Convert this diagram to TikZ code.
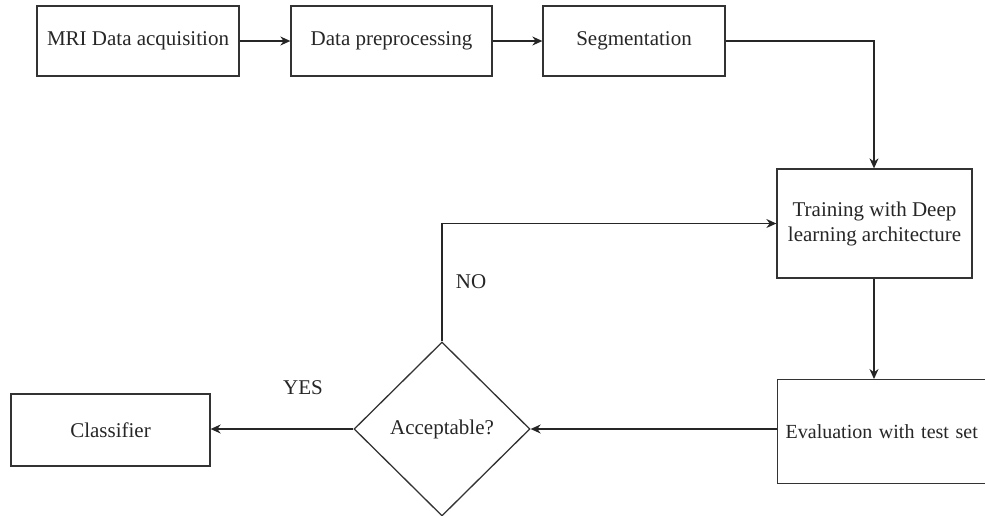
\documentclass[tikz,border=0pt]{standalone}
\usepackage{fontspec}
\setmainfont{Liberation Serif}
\usetikzlibrary{shapes.geometric,arrows.meta}
\begin{document}
\begin{tikzpicture}[x=1pt,y=-1pt,
  every node/.style={font=\fontsize{21}{25}\selectfont, text=black!85},
  box/.style={draw=black!80, line width=1.3pt, rectangle, inner sep=0pt},
  dec/.style={draw=black!80, line width=1.3pt, shape=diamond, inner sep=0pt, minimum width=176pt, minimum height=174pt},
  conn/.style={draw=black!85, line width=1.3pt, -{Stealth[length=10pt,width=9pt]}},
  lbl/.style={inner sep=0pt}]
\useasboundingbox (0,0) rectangle (985,515);
\node[box, minimum width=202pt, minimum height=70pt] (mri) at (138,41) {MRI Data acquisition};
\node[box, minimum width=201pt, minimum height=70pt] (pre) at (391.5,41) {Data preprocessing};
\node[box, minimum width=182pt, minimum height=70pt] (seg) at (634,41) {Segmentation};
\node[box, minimum width=195pt, minimum height=109pt, align=center] (train) at (874.5,223.5) {Training with Deep\\learning architecture};
\node[box, anchor=north west, minimum height=104pt, text width=220pt, inner xsep=8pt, align=left, font=\fontsize{20}{24}\selectfont] (eval) at (777,379) {Evaluation with test set};
\node[dec] (acc) at (442,429) {Acceptable?};
\node[box, minimum width=199pt, minimum height=72pt] (cls) at (110.5,430) {Classifier};
\coordinate (segturn) at (874,41);
\coordinate (noturn) at (442,223.5);
\draw[conn] (mri) -- (pre);
\draw[conn] (pre) -- (seg);
\draw[conn] (seg.east) -- (segturn) -- (train.north -| segturn);
\draw[conn] (train.south -| segturn) -- (eval.north -| segturn);
\draw[conn] (eval.west |- acc) -- (acc.east);
\draw[conn] (acc.west) -- (cls.east |- acc);
\draw[conn] (acc.north) -- (noturn) -- (train.west |- noturn);
\node[lbl] (no) at (471,282) {NO};
\node[lbl] (yes) at (303,388) {YES};
\end{tikzpicture}
\end{document}
